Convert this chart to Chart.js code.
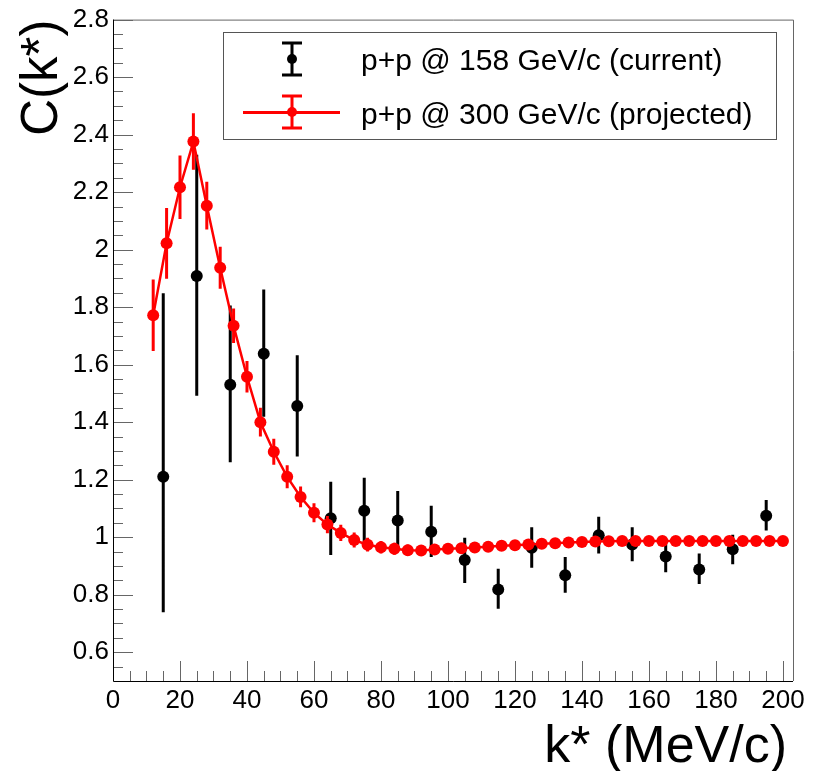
<!DOCTYPE html>
<html>
<head>
<meta charset="utf-8">
<script src="https://cdn.jsdelivr.net/npm/chart.js@4.4.1/dist/chart.umd.min.js"></script>
<style>
  html, body { margin: 0; padding: 0; background: #fff; }
  canvas { display: block; }
</style>
</head>
<body>
<canvas id="ckChart" width="819" height="771" style="width:819px;height:771px"></canvas>
<script>
// p+p @ 158 GeV/c (current), 10 MeV/c bins
var kCurrent = [15, 25, 35, 45, 55, 65, 75, 85, 95, 105, 115, 125, 135, 145, 155, 165, 175, 185, 195];
var cCurrent = [1.21, 1.908, 1.53, 1.638, 1.456, 1.066, 1.092, 1.058, 1.019, 0.921, 0.818, 0.963, 0.868, 1.007, 0.975, 0.933, 0.888, 0.958, 1.075];
var errUpCurrent = [0.638, 0.422, 0.276, 0.223, 0.177, 0.127, 0.115, 0.103, 0.09, 0.077, 0.072, 0.072, 0.063, 0.064, 0.06, 0.053, 0.055, 0.051, 0.054];
var errDownCurrent = [0.471, 0.416, 0.269, 0.219, 0.175, 0.128, 0.115, 0.103, 0.088, 0.08, 0.067, 0.069, 0.061, 0.064, 0.059, 0.055, 0.051, 0.052, 0.052];

// p+p @ 300 GeV/c (projected), 4 MeV/c bins
var kProjected = [12, 16, 20, 24, 28, 32, 36, 40, 44, 48, 52, 56, 60, 64, 68, 72, 76, 80, 84, 88,
                  92, 96, 100, 104, 108, 112, 116, 120, 124, 128, 132, 136, 140, 144, 148, 152,
                  156, 160, 164, 168, 172, 176, 180, 184, 188, 192, 196, 200];
var cProjected = [1.772, 2.022, 2.217, 2.376, 2.153, 1.937, 1.735, 1.558, 1.40, 1.297, 1.21, 1.14, 1.085, 1.044, 1.015, 0.990, 0.974, 0.965, 0.960, 0.955,
                  0.954, 0.957, 0.960, 0.962, 0.964, 0.967, 0.970, 0.972, 0.975, 0.977, 0.979, 0.982, 0.983, 0.985, 0.986, 0.987,
                  0.987, 0.987, 0.987, 0.987, 0.987, 0.987, 0.987, 0.987, 0.987, 0.987, 0.987, 0.987];
var errProjected = [0.124, 0.123, 0.11, 0.098, 0.083, 0.073, 0.06, 0.055, 0.05, 0.045, 0.04, 0.036, 0.033, 0.03, 0.028, 0.026, 0.024, 0.022, 0.021, 0.02,
                    0.019, 0.019, 0.018, 0.018, 0.018, 0.017, 0.017, 0.017, 0.016, 0.016, 0.016, 0.016, 0.015, 0.015, 0.015, 0.015,
                    0.015, 0.014, 0.014, 0.014, 0.014, 0.014, 0.014, 0.013, 0.013, 0.013, 0.013, 0.013];

var xTickValues = [0, 20, 40, 60, 80, 100, 120, 140, 160, 180, 200];
var yTickValues = [0.6, 0.8, 1.0, 1.2, 1.4, 1.6, 1.8, 2.0, 2.2, 2.4, 2.6, 2.8];

var labelCurrent = "p+p @ 158 GeV/c (current)";
var labelProjected = "p+p @ 300 GeV/c (projected)";
var xTitle = "k* (MeV/c)";

var FONT = "'Liberation Sans', Arial, Helvetica, sans-serif";

function toPoints(xs, ys) {
    var pts = [];
    for (let i = 0; i < xs.length; i++) pts.push({x: xs[i], y: ys[i]});
    return pts;
}

function drawErrorBars(ctx, xs, ys, up, down, sx, sy, color)
{
    ctx.save();
    ctx.strokeStyle = color;
    ctx.lineWidth = 3;
    ctx.beginPath();
    for (let i = 0; i < xs.length; i++) {
        var px = sx.getPixelForValue(xs[i]);
        ctx.moveTo(px, sy.getPixelForValue(ys[i] + up[i]));
        ctx.lineTo(px, sy.getPixelForValue(ys[i] - down[i]));
    }
    ctx.stroke();
    ctx.restore();
}

var errorBars = {
    id: 'errorBars',
    beforeDatasetDraw(chart, args) {
        var sx = chart.scales.x, sy = chart.scales.y;
        if (args.index == 0)
            drawErrorBars(chart.ctx, kProjected, cProjected, errProjected, errProjected, sx, sy, '#ff0000');
        else
            drawErrorBars(chart.ctx, kCurrent, cCurrent, errUpCurrent, errDownCurrent, sx, sy, '#000000');
    }
};

// ROOT style frame: ticks inside, black axes, thin grey top/right edge
var rootFrame = {
    id: 'rootFrame',
    beforeDatasetsDraw(chart) {
        var a = chart.chartArea, ctx = chart.ctx;
        var sx = chart.scales.x, sy = chart.scales.y;
        ctx.save();
        ctx.lineWidth = 1;
        ctx.strokeStyle = '#666';
        ctx.beginPath();
        ctx.moveTo(a.left, a.top + 0.5);
        ctx.lineTo(a.right + 0.5, a.top + 0.5);
        ctx.lineTo(a.right + 0.5, a.bottom);
        ctx.stroke();

        ctx.strokeStyle = '#666';
        ctx.beginPath();
        for (let v = 0; v <= 200; v += 5) {
            var px = Math.round(sx.getPixelForValue(v)) + 0.5;
            var len = (v % 20 == 0) ? 20 : 10;
            ctx.moveTo(px, a.bottom);
            ctx.lineTo(px, a.bottom - len);
        }
        for (let i = 11; i <= 56; i++) {
            var py = Math.round(sy.getPixelForValue(i * 0.05)) + 0.5;
            var ylen = (i % 4 == 0) ? 20 : 10;
            ctx.moveTo(a.left, py);
            ctx.lineTo(a.left + ylen, py);
        }
        ctx.stroke();

        ctx.strokeStyle = '#000';
        ctx.beginPath();
        ctx.moveTo(a.left + 0.5, a.top);
        ctx.lineTo(a.left + 0.5, a.bottom + 0.5);
        ctx.lineTo(a.right, a.bottom + 0.5);
        ctx.stroke();
        ctx.restore();
    }
};

function legendBar(ctx, x, y, color) {
    ctx.strokeStyle = color;
    ctx.lineWidth = 3;
    ctx.beginPath();
    ctx.moveTo(x, y - 16); ctx.lineTo(x, y + 16);
    ctx.moveTo(x - 10, y - 16); ctx.lineTo(x + 10, y - 16);
    ctx.moveTo(x - 10, y + 16); ctx.lineTo(x + 10, y + 16);
    ctx.stroke();
    ctx.fillStyle = color;
    ctx.beginPath();
    ctx.arc(x, y, 5, 0, Math.PI * 2);
    ctx.fill();
}

var rootLegend = {
    id: 'rootLegend',
    afterDraw(chart) {
        var ctx = chart.ctx;
        ctx.save();
        ctx.fillStyle = '#fff';
        ctx.fillRect(223.5, 32.5, 553, 107);
        ctx.strokeStyle = '#555';
        ctx.lineWidth = 1;
        ctx.strokeRect(223.5, 32.5, 553, 107);

        legendBar(ctx, 292, 59, '#000');
        ctx.strokeStyle = '#ff0000';
        ctx.lineWidth = 3;
        ctx.beginPath();
        ctx.moveTo(243, 112.5); ctx.lineTo(340, 112.5);
        ctx.stroke();
        legendBar(ctx, 292, 112, '#ff0000');

        ctx.fillStyle = '#000';
        ctx.font = '30px ' + FONT;
        ctx.textBaseline = 'alphabetic';
        ctx.fillText(labelCurrent, 361, 70);
        ctx.fillText(labelProjected, 361, 124);

        // x axis title, right aligned just inside the frame edge
        ctx.font = '52px ' + FONT;
        ctx.textAlign = 'right';
        ctx.fillText(xTitle, 787, 762);
        ctx.restore();
    }
};

var ctx = document.getElementById('ckChart').getContext('2d');
var chart = new Chart(ctx, {
    type: 'scatter',
    data: {
        datasets: [
            {
                label: labelProjected,
                data: toPoints(kProjected, cProjected),
                showLine: true,
                borderColor: '#ff0000',
                borderWidth: 2.5,
                backgroundColor: '#ff0000',
                pointRadius: 6,
                pointBorderWidth: 0,
                pointBackgroundColor: '#ff0000',
                tension: 0
            },
            {
                label: labelCurrent,
                data: toPoints(kCurrent, cCurrent),
                showLine: false,
                backgroundColor: '#000',
                pointRadius: 6,
                pointBorderWidth: 0,
                pointBackgroundColor: '#000'
            }
        ]
    },
    options: {
        responsive: false,
        animation: false,
        events: [],
        layout: { padding: { left: 0, right: 26, top: 15, bottom: 0 } },
        scales: {
            x: {
                type: 'linear',
                min: 0,
                max: 203,
                grid: { display: false, drawTicks: false },
                border: { display: false },
                afterBuildTicks: function(s) { s.ticks = xTickValues.map(v => ({value: v})); },
                afterFit: function(s) { s.height = 90; },
                ticks: {
                    autoSkip: false,
                    maxRotation: 0,
                    padding: 4,
                    color: '#000',
                    font: { family: FONT, size: 26 },
                    callback: v => String(v)
                },
                title: { display: false }
            },
            y: {
                type: 'linear',
                min: 0.5,
                max: 2.8,
                grid: { display: false, drawTicks: false },
                border: { display: false },
                afterBuildTicks: function(s) { s.ticks = yTickValues.map(v => ({value: v})); },
                afterFit: function(s) { s.width = 113; },
                ticks: {
                    autoSkip: false,
                    padding: 4,
                    color: '#000',
                    font: { family: FONT, size: 26 },
                    callback: v => String(Math.round(v * 10) / 10)
                },
                title: {
                    display: true,
                    text: 'C(k*)',
                    align: 'end',
                    color: '#000',
                    padding: { top: 17, bottom: 0 },
                    font: { family: FONT, size: 51, lineHeight: 1 }
                }
            }
        },
        plugins: {
            legend: { display: false },
            tooltip: { enabled: false }
        }
    },
    plugins: [rootFrame, errorBars, rootLegend]
});
</script>
</body>
</html>
